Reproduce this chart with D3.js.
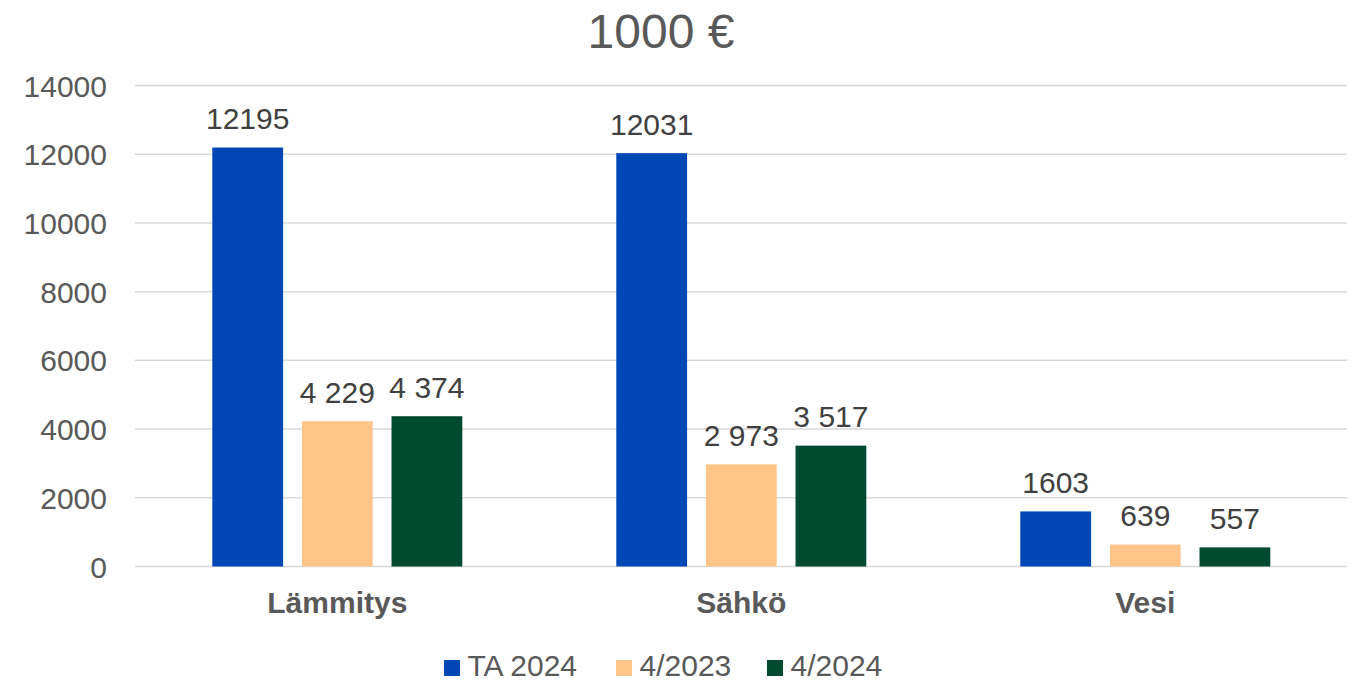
<!DOCTYPE html>
<html>
<head>
<meta charset="utf-8">
<script src="https://cdn.jsdelivr.net/npm/d3@7"></script>
<style>
  body { margin: 0; background: #fff; }
  text { font-family: Arial, "Liberation Sans", sans-serif; }
</style>
</head>
<body>
<div id="chart"></div>
<script>
// data
var categories = ["Lämmitys", "Sähkö", "Vesi"];
var seriesNames = ["TA 2024", "4/2023", "4/2024"];
var ta2024 = [12195, 12031, 1603];
var apr2023 = [4229, 2973, 639];
var apr2024 = [4374, 3517, 557];
var yTicks = [0, 2000, 4000, 6000, 8000, 10000, 12000, 14000];

var colors = ["#0047b6", "#ffc488", "#004b2f"];
var seriesValues = [ta2024, apr2023, apr2024];

var svgWidth = 1358;
var svgHeight = 683;

var svg = d3.select("#chart")
  .append("svg")
  .attr("width", svgWidth)
  .attr("height", svgHeight);

// scales
var x0 = d3.scaleBand()
  .domain(categories)
  .range([135.3, 1347.3]);

var x1 = d3.scaleBand()
  .domain(seriesNames)
  .range([77, 327])
  .paddingInner(0.21);

var y = d3.scaleLinear()
  .domain([0, 14000])
  .range([566.5, 85.5]);

// gridlines
svg.append("g")
  .selectAll("line")
  .data(yTicks)
  .enter()
  .append("line")
  .attr("x1", 135)
  .attr("x2", 1347)
  .attr("y1", d => y(d))
  .attr("y2", d => y(d))
  .attr("stroke", "#d9d9d9")
  .attr("stroke-width", 1.5);

// y axis labels
var leftAxis = d3.axisLeft(y).tickValues(yTicks).tickSize(0).tickPadding(0).tickFormat(d3.format("d"));
var yAxis = svg.append("g")
  .attr("transform", "translate(107,0)")
  .call(leftAxis);
yAxis.select(".domain").remove();
yAxis.selectAll("text")
  .attr("font-size", "30px")
  .attr("fill", "#595959")
  .attr("font-family", "Arial, 'Liberation Sans', sans-serif")
  .attr("dy", "0.35em");

// title
svg.append("text")
  .attr("x", 661)
  .attr("y", 48)
  .attr("text-anchor", "middle")
  .attr("font-size", "48px")
  .attr("fill", "#595959")
  .text("1000 €");

// rows of bars
var rows = [];
categories.forEach(function(cat, i) {
  seriesNames.forEach(function(s, j) {
    rows.push({cat: cat, series: s, idx: j, value: seriesValues[j][i]});
  });
});

var fmtSpace = function(v) {
  return d3.format(",")(v).replace(/,/g, " ");
};

var groups = svg.append("g");

groups.selectAll("rect")
  .data(rows)
  .enter()
  .append("rect")
  .attr("x", d => x0(d.cat) + x1(d.series))
  .attr("y", d => y(d.value))
  .attr("width", x1.bandwidth())
  .attr("height", d => y(0) - y(d.value))
  .attr("fill", d => colors[d.idx]);

// value labels
groups.selectAll("text.val")
  .data(rows)
  .enter()
  .append("text")
  .attr("class", "val")
  .attr("x", d => x0(d.cat) + x1(d.series) + x1.bandwidth() / 2)
  .attr("y", d => y(d.value) - 18.5)
  .attr("text-anchor", "middle")
  .attr("font-size", "30px")
  .attr("fill", "#404040")
  .text(d => d.idx === 0 ? String(d.value) : fmtSpace(d.value));

// category labels
svg.append("g")
  .selectAll("text")
  .data(categories)
  .enter()
  .append("text")
  .attr("x", d => x0(d) + x0.bandwidth() / 2)
  .attr("y", 613)
  .attr("text-anchor", "middle")
  .attr("font-size", "30px")
  .attr("font-weight", "bold")
  .attr("fill", "#595959")
  .text(d => d);

// legend (nudged up a little so nothing is clipped at the bottom edge)
var legendX = [444, 616, 767];
var legend = svg.append("g");
seriesNames.forEach(function(s, j) {
  legend.append("rect")
    .attr("x", legendX[j])
    .attr("y", 660)
    .attr("width", 16)
    .attr("height", 16)
    .attr("fill", colors[j]);
  legend.append("text")
    .attr("x", legendX[j] + 23.5)
    .attr("y", 676)
    .attr("font-size", "30px")
    .attr("fill", "#595959")
    .text(s);
});
</script>
</body>
</html>
